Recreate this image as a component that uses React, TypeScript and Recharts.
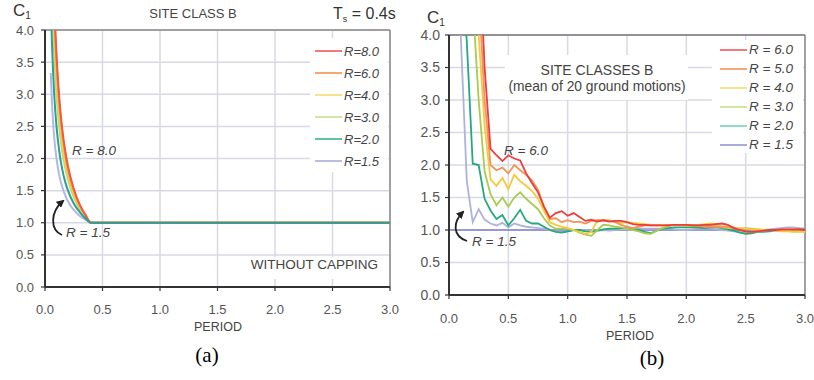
import React from 'react';
import { LineChart, Line, XAxis, YAxis, CartesianGrid, ReferenceLine } from 'recharts';

const FONT = "'Liberation Sans', Arial, sans-serif";
const TICK_FONT = "'Liberation Sans Narrow', 'Liberation Sans', Arial, sans-serif";

const X_TICKS = [0, 0.5, 1, 1.5, 2, 2.5, 3];
const Y_TICKS = [0, 0.5, 1, 1.5, 2, 2.5, 3, 3.5, 4];

// (a) site class B, without capping
const PERIOD_A = [0.05, 0.06, 0.07, 0.08, 0.1, 0.125, 0.15, 0.175, 0.2, 0.25, 0.3, 0.35, 0.4, 3.0];
const A_R80 = [7.1, 5.96, 5.13, 4.5, 3.63, 2.93, 2.46, 2.13, 1.88, 1.53, 1.29, 1.13, 1.0, 1.0];
const A_R60 = [6.8, 5.7, 4.9, 4.3, 3.5, 2.83, 2.39, 2.07, 1.83, 1.5, 1.28, 1.12, 1.0, 1.0];
const A_R40 = [6.25, 5.25, 4.54, 4.0, 3.25, 2.65, 2.25, 1.96, 1.75, 1.45, 1.25, 1.11, 1.0, 1.0];
const A_R30 = [5.7, 4.8, 4.14, 3.67, 3.0, 2.47, 2.11, 1.86, 1.67, 1.4, 1.22, 1.1, 1.0, 1.0];
const A_R20 = [4.5, 3.83, 3.36, 3.0, 2.5, 2.1, 1.83, 1.64, 1.5, 1.3, 1.17, 1.07, 1.0, 1.0];
const A_R15 = [3.33, 2.89, 2.57, 2.33, 2.0, 1.73, 1.56, 1.43, 1.33, 1.2, 1.11, 1.05, 1.0, 1.0];

// (b) mean of 20 ground motions, periods 0.05 .. 3.00
const PERIOD_B = [
  0.05, 0.1, 0.15, 0.2, 0.25, 0.3, 0.35, 0.4, 0.45, 0.5, 0.55, 0.6, 0.65, 0.7, 0.75, 0.8, 0.85, 0.9, 0.95, 1.0,
  1.05, 1.1, 1.15, 1.2, 1.25, 1.3, 1.35, 1.4, 1.45, 1.5, 1.55, 1.6, 1.65, 1.7, 1.75, 1.8, 1.85, 1.9, 1.95, 2.0,
  2.05, 2.1, 2.15, 2.2, 2.25, 2.3, 2.35, 2.4, 2.45, 2.5, 2.55, 2.6, 2.65, 2.7, 2.75, 2.8, 2.85, 2.9, 2.95, 3.0,
];
const B_R60 = [
  9, 8, 7.5, 6.5, 5.5, 3.5, 2.25, 2.15, 2.06, 2.15, 2.1, 2.07, 1.87, 1.72, 1.58, 1.36, 1.19, 1.26, 1.29, 1.22,
  1.26, 1.2, 1.14, 1.16, 1.13, 1.15, 1.13, 1.14, 1.14, 1.12, 1.09, 1.08, 1.08, 1.07, 1.07, 1.07, 1.07, 1.08, 1.08, 1.08,
  1.07, 1.07, 1.08, 1.08, 1.09, 1.1, 1.08, 1.03, 1.0, 0.98, 0.97, 0.98, 0.99, 1.0, 1.0, 1.01, 1.01, 1.01, 1.01, 1.0,
];
const B_R50 = [
  8, 7, 6.5, 5.8, 4.7, 3.0, 2.0, 1.92, 1.96, 1.87, 2.0, 1.92, 1.85, 1.76, 1.62, 1.36, 1.17, 1.18, 1.12, 1.15,
  1.12, 1.13, 1.1, 1.14, 1.15, 1.15, 1.14, 1.12, 1.08, 1.05, 1.03, 1.05, 1.07, 1.07, 1.07, 1.07, 1.08, 1.08, 1.08, 1.08,
  1.08, 1.07, 1.05, 1.05, 1.05, 1.05, 1.05, 1.04, 1.0, 0.97, 0.97, 0.98, 0.99, 1.0, 1.0, 1.0, 1.01, 1.01, 1.0, 1.0,
];
const B_R40 = [
  7, 6.5, 6.0, 5.2, 4.0, 2.6, 1.78, 1.68, 1.8, 1.63, 1.85, 1.75, 1.68, 1.6, 1.48, 1.3, 1.12, 1.08, 1.05, 1.03,
  1.0, 0.97, 0.94, 0.97, 1.15, 1.15, 1.15, 1.13, 1.11, 1.12, 1.11, 1.1, 1.09, 1.08, 1.08, 1.07, 1.07, 1.08, 1.08, 1.08,
  1.08, 1.08, 1.09, 1.1, 1.09, 1.05, 1.04, 1.03, 1.03, 1.02, 1.01, 1.01, 1.0, 1.0, 0.99, 0.98, 0.98, 0.97, 0.97, 0.97,
];
const B_R30 = [
  6.5, 6.0, 5.5, 4.5, 3.0, 1.9, 1.55, 1.38, 1.5, 1.36, 1.5, 1.58, 1.48, 1.4, 1.32, 1.18, 1.07, 1.02, 1.02, 1.02,
  1.0, 0.96, 0.93, 0.91, 1.0, 1.08, 1.07, 1.05, 1.04, 1.02, 1.0, 0.98, 0.95, 0.94, 0.99, 1.03, 1.06, 1.08, 1.07, 1.06,
  1.06, 1.06, 1.06, 1.06, 1.06, 1.04, 1.03, 1.03, 1.02, 1.03, 1.02, 1.01, 1.0, 1.0, 1.0, 0.99, 0.99, 0.98, 0.98, 0.98,
];
const B_R20 = [
  5.5, 5.0, 3.9, 2.02, 2.0, 1.48, 1.3, 1.17, 1.23, 1.07, 1.18, 1.31, 1.14, 1.1, 1.1, 1.05, 1.0, 0.97, 0.96, 0.98,
  1.0, 1.0, 0.98, 0.97, 0.99, 1.01, 1.02, 1.02, 1.03, 1.03, 1.01, 1.0, 0.97, 0.95, 0.99, 1.02, 1.03, 1.04, 1.04, 1.04,
  1.04, 1.04, 1.03, 1.04, 1.04, 1.03, 1.01, 0.99, 0.96, 0.94, 0.95, 0.97, 0.97, 0.98, 0.99, 0.99, 1.0, 1.0, 1.01, 1.01,
];
const B_R15 = [
  6.0, 3.95, 1.75, 1.12, 1.32, 1.16, 1.1, 1.07, 1.11, 1.04, 1.1, 1.07, 1.05, 1.04, 1.03, 1.02, 1.0, 0.98, 0.97, 0.98,
  1.0, 1.0, 1.0, 0.99, 0.99, 1.0, 0.99, 1.0, 1.01, 1.01, 1.01, 1.02, 1.02, 1.02, 1.02, 1.02, 1.02, 1.01, 1.0, 1.0,
  1.01, 1.02, 1.02, 1.02, 1.01, 1.0, 0.99, 0.98, 0.97, 0.96, 0.97, 0.99, 1.0, 1.01, 1.02, 1.03, 1.04, 1.04, 1.03, 1.02,
];

const dataA = PERIOD_A.map((t, i) => ({
  t, r80: A_R80[i], r60: A_R60[i], r40: A_R40[i], r30: A_R30[i], r20: A_R20[i], r15: A_R15[i],
}));
const dataB = PERIOD_B.map((t, i) => ({
  t, r60: B_R60[i], r50: B_R50[i], r40: B_R40[i], r30: B_R30[i], r20: B_R20[i], r15: B_R15[i],
}));

const SERIES_A = [
  { key: 'r15', color: '#b4b7e2' },
  { key: 'r30', color: '#bcd873' },
  { key: 'r40', color: '#f3d04e' },
  { key: 'r60', color: '#f49c45' },
  { key: 'r80', color: '#ef5a45' },
  { key: 'r20', color: '#2a9f96' },
];
const LEGEND_A = ['R=8.0', 'R=6.0', 'R=4.0', 'R=3.0', 'R=2.0', 'R=1.5'];
const LEGEND_A_COLORS = ['#f27a7a', '#f5a872', '#fbe08e', '#d3e6a6', '#5cc4a2', '#b8bde2'];

const SERIES_B = [
  { key: 'r15', color: '#aeb1de' },
  { key: 'r20', color: '#22a97c' },
  { key: 'r30', color: '#a9cc4e' },
  { key: 'r40', color: '#f6c93a' },
  { key: 'r50', color: '#f39455' },
  { key: 'r60', color: '#ee3c3c' },
];
const LEGEND_B = ['R = 6.0', 'R = 5.0', 'R = 4.0', 'R = 3.0', 'R = 2.0', 'R = 1.5'];
const LEGEND_B_COLORS = ['#f27a7a', '#f5a872', '#fbe08e', '#d3e6a6', '#8fdcc4', '#a8acda'];

const fmt = (v: number) => v.toFixed(1);

function Txt({ x, y, size = 12, italic = false, anchor = 'middle', color = '#444', family = FONT, children }: any) {
  const tx = anchor === 'middle' ? '-50%' : anchor === 'end' ? '-100%' : '0';
  return (
    <div
      style={{
        position: 'absolute', left: x, top: y, transform: `translate(${tx}, -50%)`,
        fontSize: size, fontStyle: italic ? 'italic' : 'normal', color, fontFamily: family,
        whiteSpace: 'nowrap', lineHeight: 1,
      }}
    >
      {children}
    </div>
  );
}

function Box({ x, y, w, h }: any) {
  return <div style={{ position: 'absolute', left: x, top: y, width: w, height: h, background: '#fff' }} />;
}

function Legend({ x, y, step, labels, colors, size }: any) {
  return (
    <>
      {labels.map((l: string, i: number) => (
        <React.Fragment key={l}>
          <div style={{ position: 'absolute', left: x, top: y + i * step - 1, width: 27, height: 2, background: colors[i] }} />
          <Txt x={x + 29} y={y + i * step} size={size} italic anchor="start">{l}</Txt>
        </React.Fragment>
      ))}
    </>
  );
}

function C1({ x, y }: any) {
  return (
    <div style={{ position: 'absolute', left: x, top: y, fontFamily: FONT, color: '#333', fontSize: 17, lineHeight: 1, whiteSpace: 'nowrap' }}>
      C<span style={{ fontSize: 10, position: 'relative', top: 3 }}>1</span>
    </div>
  );
}

export default function App() {
  const axisLine = { stroke: '#333', strokeWidth: 2 };
  const tickLine = { stroke: '#333', strokeWidth: 1.2 };
  const tickStyle = { fill: '#555', fontSize: 13, fontFamily: TICK_FONT };
  return (
    <div style={{ position: 'absolute', left: 0, top: 0, width: 814, height: 380, background: '#fff', overflow: 'hidden' }}>
      <div style={{ position: 'absolute', left: 0, top: 0 }}>
        <LineChart width={400} height={330} data={dataA} margin={{ top: 30, right: 10, bottom: 18, left: 10 }}>
          <CartesianGrid stroke="#d8d9e4" strokeWidth={1.5} />
          <XAxis dataKey="t" type="number" domain={[0, 3]} ticks={X_TICKS} tickFormatter={fmt} height={25}
            axisLine={axisLine} tickLine={tickLine} tickSize={4} tickMargin={14} tick={tickStyle} />
          <YAxis type="number" domain={[0, 4]} ticks={Y_TICKS} tickFormatter={fmt} width={35} allowDataOverflow
            axisLine={axisLine} tickLine={tickLine} tickSize={4} tickMargin={7} tick={tickStyle} />
          <ReferenceLine y={4} stroke="#8a8a8a" strokeWidth={1.5} />
          <ReferenceLine x={3} stroke="#8a8a8a" strokeWidth={1.5} />
          {SERIES_A.map((s) => (
            <Line key={s.key} dataKey={s.key} type="monotone" stroke={s.color} strokeWidth={2} dot={false} isAnimationActive={false} />
          ))}
        </LineChart>
      </div>
      <div style={{ position: 'absolute', left: 410, top: 0 }}>
        <LineChart width={404} height={340} data={dataB} margin={{ top: 35, right: 9, bottom: 17, left: 9 }}>
          <CartesianGrid stroke="#d8d9e4" strokeWidth={1.5} />
          <XAxis dataKey="t" type="number" domain={[0, 3]} ticks={X_TICKS} tickFormatter={fmt} height={28}
            axisLine={axisLine} tickLine={tickLine} tickSize={4} tickMargin={15} tick={tickStyle} />
          <YAxis type="number" domain={[0, 4]} ticks={Y_TICKS} tickFormatter={fmt} width={30} allowDataOverflow
            axisLine={axisLine} tickLine={tickLine} tickSize={4} tickMargin={5} tick={{ ...tickStyle, fontSize: 14 }} />
          <ReferenceLine y={4} stroke="#777" strokeWidth={1.5} />
          <ReferenceLine x={3} stroke="#8a8a8a" strokeWidth={1.5} />
          <ReferenceLine y={1} stroke="#7c80cc" strokeWidth={1.5} />
          {SERIES_B.map((s) => (
            <Line key={s.key} dataKey={s.key} type="linear" stroke={s.color} strokeWidth={1.8} dot={false} isAnimationActive={false} />
          ))}
        </LineChart>
      </div>

      {/* (a) annotations */}
      <C1 x={13} y={2} />
      <Txt x={193} y={13} size={13}>SITE CLASS B</Txt>
      <div style={{ position: 'absolute', left: 333, top: 6, fontFamily: FONT, fontSize: 16, color: '#333', lineHeight: 1, whiteSpace: 'nowrap' }}>
        T<span style={{ fontSize: 9, position: 'relative', top: 3 }}>s</span> = 0.4s
      </div>
      <Box x={310} y={38} w={78} h={134} />
      <Legend x={315} y={51} step={22} labels={LEGEND_A} colors={LEGEND_A_COLORS} size={13} />
      <Box x={250} y={257} w={138} h={22} />
      <Txt x={378} y={265} size={13.5} anchor="end">WITHOUT CAPPING</Txt>
      <Txt x={72} y={151} size={13.5} italic anchor="start">R = 8.0</Txt>
      <Txt x={66} y={233} size={13.5} italic anchor="start">R = 1.5</Txt>
      <Txt x={218} y={327} size={12.5}>PERIOD</Txt>
      <Txt x={207} y={355} size={21} color="#000" family="'Liberation Serif', 'Times New Roman', serif">(a)</Txt>

      {/* (b) annotations */}
      <C1 x={427} y={9} />
      <Box x={505} y={55} w={183} h={45} />
      <Txt x={597} y={70} size={14}>SITE CLASSES B</Txt>
      <Txt x={597} y={87} size={13.8}>(mean of 20 ground motions)</Txt>
      <Box x={712} y={40} w={91} h={113} />
      <Legend x={720} y={50} step={19} labels={LEGEND_B} colors={LEGEND_B_COLORS} size={13.5} />
      <Txt x={504} y={151} size={13.5} italic anchor="start">R = 6.0</Txt>
      <Txt x={472} y={242} size={13.5} italic anchor="start">R = 1.5</Txt>
      <Txt x={630} y={336} size={12.5}>PERIOD</Txt>
      <Txt x={652} y={358} size={21} color="#000" family="'Liberation Serif', 'Times New Roman', serif">(b)</Txt>

      <svg width={814} height={380} style={{ position: 'absolute', left: 0, top: 0, pointerEvents: 'none' }}>
        <defs>
          <marker id="ah" markerWidth="8" markerHeight="8" refX="6" refY="4" orient="auto" markerUnits="userSpaceOnUse">
            <path d="M0,0 L8,4 L0,8 z" fill="#222" />
          </marker>
        </defs>
        <path d="M62 235 C50 230, 50 212, 63 201" stroke="#222" strokeWidth={1.8} fill="none" markerEnd="url(#ah)" />
        <path d="M467 241 C452 236, 453 222, 463 212" stroke="#222" strokeWidth={1.8} fill="none" markerEnd="url(#ah)" />
      </svg>
    </div>
  );
}
